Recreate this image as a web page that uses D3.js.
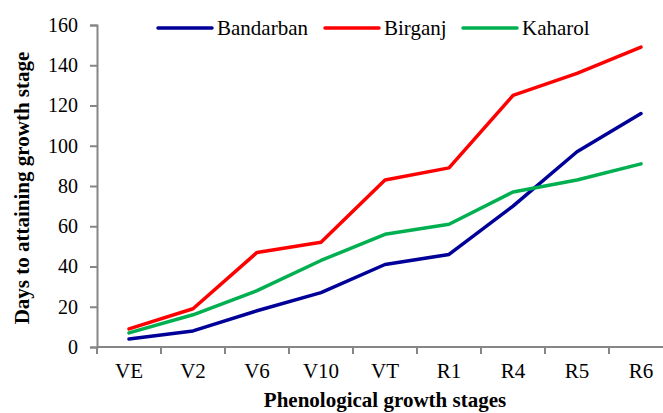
<!DOCTYPE html>
<html>
<head>
<meta charset="utf-8">
<script src="https://cdn.jsdelivr.net/npm/d3@7"></script>
<style>
  body { margin: 0; background: #fff; }
  svg text { font-family: "Liberation Serif", "Times New Roman", "DejaVu Serif", serif; }
</style>
</head>
<body>
<script>
const stages = ["VE", "V2", "V6", "V10", "VT", "R1", "R4", "R5", "R6"];
const bandarban = [4, 8, 18, 27, 41, 46, 70, 97, 116];
const birganj = [9, 19, 47, 52, 83, 89, 125, 136, 149];
const kaharol = [7, 16, 28, 43, 56, 61, 77, 83, 91];
const yTicks = [0, 20, 40, 60, 80, 100, 120, 140, 160];

const series = [
  { name: "Bandarban", values: bandarban, color: "#000099" },
  { name: "Birganj", values: birganj, color: "#ff0000" },
  { name: "Kaharol", values: kaharol, color: "#00b050" }
];

const width = 663, height = 413;
const serif = "'Liberation Serif', 'Times New Roman', serif";
const svg = d3.select("body").append("svg")
  .attr("width", width)
  .attr("height", height)
  .attr("font-family", serif);

// plot area (the right end is cut off by the picture edge, as in the original)
const x = d3.scaleBand().domain(stages).range([97, 673]);
const y = d3.scaleLinear().domain([0, 160]).range([347, 25]);

const axisColor = "#868686";

// y axis
const yAxis = svg.append("g")
  .attr("transform", "translate(97,0)")
  .call(d3.axisLeft(y).tickValues(yTicks).tickSize(7).tickPadding(12));
yAxis.attr("font-family", serif).attr("font-size", 20);
yAxis.select(".domain").attr("stroke", axisColor).attr("stroke-width", 2);
yAxis.selectAll(".tick line").attr("stroke", axisColor).attr("stroke-width", 2);
yAxis.selectAll(".tick text").attr("fill", "#000");

// x axis: ticks at band boundaries
const xAxis = svg.append("g")
  .attr("transform", "translate(0,347)");
xAxis.append("line")
  .attr("x1", 97).attr("x2", 673)
  .attr("stroke", axisColor).attr("stroke-width", 2);
xAxis.selectAll("line.tk")
  .data(stages)
  .enter().append("line")
  .attr("class", "tk")
  .attr("x1", d => x(d)).attr("x2", d => x(d))
  .attr("y1", 0).attr("y2", 7)
  .attr("stroke", axisColor).attr("stroke-width", 2);
xAxis.selectAll("text")
  .data(stages)
  .enter().append("text")
  .attr("x", d => x(d) + x.bandwidth() / 2)
  .attr("y", 31)
  .attr("text-anchor", "middle")
  .attr("font-size", 21)
  .text(d => d);

// axis titles
svg.append("text")
  .attr("transform", "translate(29,188) rotate(-90)")
  .attr("text-anchor", "middle")
  .attr("font-size", 21)
  .attr("font-weight", "bold")
  .text("Days to attaining growth stage");

svg.append("text")
  .attr("x", 385)
  .attr("y", 407)
  .attr("text-anchor", "middle")
  .attr("font-size", 21)
  .attr("font-weight", "bold")
  .text("Phenological growth stages");

// lines
const line = d3.line()
  .x((d, i) => x(stages[i]) + x.bandwidth() / 2)
  .y(d => y(d));

svg.selectAll("path.series")
  .data(series)
  .enter().append("path")
  .attr("class", "series")
  .attr("d", d => line(d.values))
  .attr("fill", "none")
  .attr("stroke", d => d.color)
  .attr("stroke-width", 3.5)
  .attr("stroke-linejoin", "round")
  .attr("stroke-linecap", "round");

// legend
const legendX = [158, 325, 463];
const legend = svg.selectAll("g.legend")
  .data(series)
  .enter().append("g")
  .attr("class", "legend")
  .attr("transform", (d, i) => `translate(${legendX[i]},28)`);
legend.append("line")
  .attr("x1", 0).attr("x2", 54)
  .attr("stroke", d => d.color)
  .attr("stroke-width", 3.5)
  .attr("stroke-linecap", "round");
legend.append("text")
  .attr("x", 59)
  .attr("y", 7)
  .attr("font-size", 21)
  .text(d => d.name);
</script>
</body>
</html>
